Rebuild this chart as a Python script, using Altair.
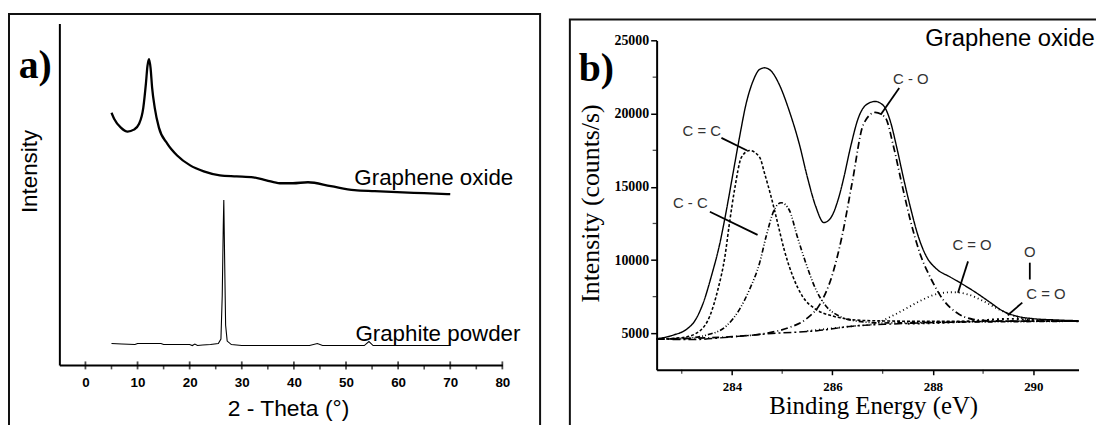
import altair as alt
import pandas as pd

# ---------------- a) XRD patterns ----------------
go_theta = [5.0, 5.5, 6.8, 8.1, 9.3, 10.3, 11.1, 11.6, 11.9, 12.2, 12.5, 12.8, 13.3, 14.1, 15.7, 17.6,
            20.1, 22.7, 25.8, 29.0, 32.2, 34.7, 37.3, 39.8, 42.7, 47.1, 51.6, 55.5, 59.8, 65.0, 70.0]
go_int = [254, 248, 239, 235, 237, 243, 259, 283, 301, 308, 299, 279, 259, 239, 223, 211,
          201, 195, 191, 190, 189, 186, 183, 183, 184, 180, 176, 175, 174, 173, 172]

gp_theta = [5.0, 7.0, 9.5, 10.0, 14.5, 15.0, 20.0, 20.5, 21.0, 21.5, 22.5, 24.0, 25.5, 26.0, 26.25,
            26.45, 26.55, 26.7, 26.9, 27.2, 28.0, 30.0, 42.0, 43.0, 44.5, 45.5, 53.5, 54.4, 55.2, 70.0]
gp_int = [21.5, 21, 20.5, 21.5, 21.5, 20.5, 20.5, 19.5, 21, 19.5, 20, 20.5, 21.5, 26, 70,
          140, 166, 110, 40, 24, 20.5, 19.5, 19.5, 19.5, 21.5, 19.5, 19.5, 23.5, 19.5, 19.5]

a_major = [0, 10, 20, 30, 40, 50, 60, 70, 80]
a_minor = [5, 15, 25, 35, 45, 55, 65, 75]

a_lab_text = ["Graphene oxide", "Graphite powder"]
a_lab_x = [51.6, 51.8]
a_lab_y = [181, 24]
a_tag_x = [-12.8]
a_tag_y = [289]

# ---------------- b) XPS C1s ----------------
env_x = [282.5, 282.83, 283.1, 283.26, 283.43, 283.59, 283.76, 283.89, 284.02, 284.15, 284.28, 284.42,
         284.55, 284.65, 284.78, 284.94, 285.14, 285.34, 285.5, 285.67, 285.83, 285.96, 286.13, 286.23,
         286.36, 286.52, 286.69, 286.85, 287.02, 287.15, 287.28, 287.41, 287.55, 287.71, 287.87, 288.07,
         288.34, 288.6, 288.86, 289.13, 289.39, 289.65, 289.98, 290.5, 290.9]
env_y = [4620, 4870, 5280, 5840, 7090, 8900, 11160, 13420, 15910, 18390, 20660, 22240,
         23030, 23140, 22920, 22010, 20200, 17940, 15680, 13640, 12560, 12850, 14320, 15680,
         17710, 19750, 20660, 20840, 20540, 19520, 17710, 15680, 13640, 11610, 10250, 9400,
         8850, 8330, 7770, 7130, 6520, 6180, 6000, 5900, 5850]

bg_x = [282.5, 283.2, 284.0, 284.8, 285.7, 286.4, 287.2, 288.1, 289.4, 290.9]
bg_y = [4600, 4560, 4750, 4980, 5170, 5480, 5630, 5730, 5810, 5820]

cc_x = [282.5, 283.03, 283.36, 283.56, 283.72, 283.86, 283.95, 284.05, 284.19, 284.35, 284.55, 284.65,
        284.78, 284.91, 285.04, 285.21, 285.4, 285.67, 286.0, 286.33, 286.8, 287.5, 288.5, 290.9]
cc_y = [4600, 4710, 5160, 6180, 7990, 10250, 12520, 14780, 17030, 17490, 17030, 15910,
        14320, 12520, 10700, 8900, 7540, 6630, 6180, 5950, 5850, 5820, 5810, 5810]

c2_x = [282.5, 283.03, 283.49, 283.89, 284.15, 284.35, 284.55, 284.68, 284.84, 284.98, 285.14, 285.3,
        285.47, 285.67, 285.87, 286.13, 286.46, 287.0, 288.0, 290.9]
c2_y = [4600, 4640, 4870, 5500, 6630, 7990, 9800, 11610, 13420, 13920, 13420, 11610,
        9800, 7990, 6860, 6180, 5840, 5700, 5740, 5820]

co_x = [282.5, 284.0, 284.68, 285.14, 285.47, 285.77, 285.99, 286.19, 286.39, 286.62, 286.85, 287.05,
        287.22, 287.38, 287.55, 287.74, 287.97, 288.2, 288.47, 288.8, 289.19, 290.0, 290.9]
co_y = [4600, 4760, 5000, 5390, 5950, 7090, 8900, 11610, 15230, 19300, 20090, 19750,
        17710, 15230, 12740, 10480, 8670, 7310, 6410, 5950, 5840, 5820, 5820]

cdo_x = [285.5, 286.4, 286.8, 287.2, 287.5, 287.8, 288.1, 288.4, 288.7, 289.0, 289.3, 289.6, 290.0, 290.5, 290.9]
cdo_y = [5150, 5480, 5620, 6200, 6750, 7300, 7700, 7800, 7650, 7200, 6650, 6200, 5900, 5830, 5820]

ocdo_x = [287.5, 288.5, 289.0, 289.3, 289.6, 289.9, 290.3, 290.9]
ocdo_y = [5650, 5760, 5880, 5960, 5980, 5920, 5840, 5820]

b_series = ["Envelope", "Background", "C=C", "C-C", "C-O", "C=O", "O-C=O"]

b_lab_text = ["C = C", "C - C", "C - O", "C = O", "O", "C = O"]
b_lab_x = [283.40, 283.17, 287.56, 288.78, 289.93, 290.25]
b_lab_y = [18840, 13890, 22340, 11040, 10520, 7650]

lead_x1 = [283.79, 283.56, 287.33, 288.70, 289.93, 289.78]
lead_y1 = [18350, 13300, 21760, 9910, 9820, 7090]
lead_x2 = [284.30, 284.51, 286.96, 288.50, 289.93, 289.49]
lead_y2 = [17490, 11720, 19930, 7770, 8670, 6230]

b_major_x = [284, 286, 288, 290]
b_minor_x = [283, 285, 287, 289]
b_major_y = [5000, 10000, 15000, 20000, 25000]
b_minor_y = [7500, 12500, 17500, 22500]

b_title_text = ["Graphene oxide"]
b_title_x = [287.85]
b_title_y = [24613]
b_tag_x = [280.95]
b_tag_y = [22240]

# ---------------- layout / styles ----------------
W, H = 1096, 417
SANS = "Liberation Sans"
SERIF = "Liberation Serif"

XA = alt.Scale(domain=[-5, 80], range=[51.75, 498], nice=False, zero=False)
YA = alt.Scale(domain=[0, 344], range=[358, 14], nice=False, zero=False)
XB = alt.Scale(domain=[282.5, 290.9], range=[653.4, 1078.4], nice=False, zero=False)
YB = alt.Scale(domain=[2500, 25000], range=[362.9, 31.3], nice=False, zero=False)

# ---------------- data frames ----------------
df_go = pd.DataFrame({"x": go_theta, "y": go_int})
df_gp = pd.DataFrame({"x": gp_theta, "y": gp_int})
df_am = pd.DataFrame({"v": a_major})
df_an = pd.DataFrame({"v": a_minor})
df_alab = pd.DataFrame({"x": a_lab_x, "y": a_lab_y, "t": a_lab_text})
df_atag = pd.DataFrame({"x": a_tag_x, "y": a_tag_y, "t": ["a)"]})

rows = []
for name, xs, ys in [("Envelope", env_x, env_y), ("Background", bg_x, bg_y), ("C=C", cc_x, cc_y),
                     ("C-C", c2_x, c2_y), ("C-O", co_x, co_y), ("C=O", cdo_x, cdo_y),
                     ("O-C=O", ocdo_x, ocdo_y)]:
    for i, (xv, yv) in enumerate(zip(xs, ys)):
        rows.append({"s": name, "x": xv, "y": yv, "o": i})
df_b = pd.DataFrame(rows)
df_blab = pd.DataFrame({"x": b_lab_x, "y": b_lab_y, "t": b_lab_text})
df_lead = pd.DataFrame({"x": lead_x1, "y": lead_y1, "x2": lead_x2, "y2": lead_y2})
df_bnx = pd.DataFrame({"v": b_minor_x})
df_bny = pd.DataFrame({"v": b_minor_y})
df_btitle = pd.DataFrame({"x": b_title_x, "y": b_title_y, "t": b_title_text})
df_btag = pd.DataFrame({"x": b_tag_x, "y": b_tag_y, "t": ["b)"]})
df_one = pd.DataFrame({"k": [0]})

# ---------------- panel a ----------------
ax_a_x = alt.Axis(orient="bottom", offset=358 - H, values=a_major, format="d", ticks=False, tickSize=0,
                  labelPadding=11, labelFont=SANS, labelFontSize=13.5, labelFontWeight="bold",
                  labelColor="black", labelFlush=False, labelOverlap=False, domainColor="black",
                  domainWidth=2, grid=False, title="2 - Theta (°)", titleFont=SANS, titleFontSize=23,
                  titleFontWeight="normal", titleColor="black", titleX=282, titleY=51,
                  titleAlign="center", titleBaseline="alphabetic")
ax_a_y = alt.Axis(orient="left", offset=-51.75, labels=False, ticks=False, domainColor="black",
                  domainWidth=2, grid=False, title="Intensity", titleFont=SANS, titleFontSize=22.5,
                  titleFontWeight="normal", titleColor="black", titleX=-22.75, titleY=162.7,
                  titleAngle=270, titleAlign="center", titleBaseline="alphabetic")

go_line = alt.Chart(df_go).mark_line(color="black", strokeWidth=2.3, interpolate="monotone").encode(
    x=alt.X("x:Q", scale=XA, axis=ax_a_x), y=alt.Y("y:Q", scale=YA, axis=ax_a_y))
gp_line = alt.Chart(df_gp).mark_line(color="black", strokeWidth=1.1).encode(
    x=alt.X("x:Q", scale=XA, axis=None), y=alt.Y("y:Q", scale=YA, axis=None))
a_ticks = alt.Chart(df_am).mark_tick(color="black", thickness=1.8, size=8).encode(
    x=alt.X("v:Q", scale=XA, axis=None), y=alt.value(358.5))
a_mticks = alt.Chart(df_an).mark_tick(color="black", thickness=1.6, size=4).encode(
    x=alt.X("v:Q", scale=XA, axis=None), y=alt.value(360.5))
a_labels = alt.Chart(df_alab).mark_text(align="left", baseline="alphabetic", font=SANS,
                                        fontSize=22.5, color="black").encode(
    x=alt.X("x:Q", scale=XA, axis=None), y=alt.Y("y:Q", scale=YA, axis=None), text="t:N")
a_tag = alt.Chart(df_atag).mark_text(align="left", baseline="alphabetic", font=SERIF, fontSize=40,
                                     fontWeight="bold", color="black").encode(
    x=alt.X("x:Q", scale=XA, axis=None), y=alt.Y("y:Q", scale=YA, axis=None), text="t:N")

# ---------------- panel b ----------------
ax_b_x = alt.Axis(orient="bottom", offset=362.9 - H, values=b_major_x, format="d", ticks=True,
                  tickSize=5, tickWidth=1.5, tickColor="black", labelPadding=6, labelFont=SERIF,
                  labelFontSize=13, labelFontWeight="bold", labelColor="black", labelFlush=False,
                  labelOverlap=False, domainColor="black", domainWidth=2, grid=False,
                  title="Binding Energy (eV)", titleFont=SERIF, titleFontSize=25,
                  titleFontWeight="normal", titleColor="black", titleX=871.5, titleY=44.1,
                  titleAlign="center", titleBaseline="alphabetic")
ax_b_y = alt.Axis(orient="left", offset=-653.4, values=b_major_y, format="d", ticks=True, tickSize=6,
                  tickWidth=1.5, tickColor="black", labelPadding=2, labelFont=SERIF, labelFontSize=14,
                  labelFontWeight="bold", labelColor="black", labelFlush=False, labelOverlap=False,
                  domainColor="black", domainWidth=2, grid=False, title="Intensity (counts/s)",
                  titleFont=SERIF, titleFontSize=26, titleFontWeight="normal", titleColor="black",
                  titleX=-58.4, titleY=195, titleAngle=270, titleAlign="center",
                  titleBaseline="alphabetic")

b_lines = alt.Chart(df_b).mark_line(color="black", interpolate="monotone").encode(
    x=alt.X("x:Q", scale=XB, axis=ax_b_x),
    y=alt.Y("y:Q", scale=YB, axis=ax_b_y),
    detail="s:N",
    order="o:Q",
    strokeDash=alt.StrokeDash("s:N", legend=None, scale=alt.Scale(
        domain=b_series,
        range=[[1, 0], [8, 3, 2, 3], [3, 2], [5, 2, 1, 2, 1, 2], [7, 3, 1, 3], [1, 3], [2, 3]])),
    strokeWidth=alt.StrokeWidth("s:N", legend=None, scale=alt.Scale(
        domain=b_series, range=[1.4, 1.9, 1.2, 1.2, 1.2, 1.3, 1.2])),
)
b_leads = alt.Chart(df_lead).mark_rule(color="black", strokeWidth=1.8).encode(
    x=alt.X("x:Q", scale=XB, axis=None), y=alt.Y("y:Q", scale=YB, axis=None),
    x2="x2:Q", y2="y2:Q")
b_labels = alt.Chart(df_blab).mark_text(align="center", baseline="middle", font=SANS, fontSize=15,
                                        color="#333333").encode(
    x=alt.X("x:Q", scale=XB, axis=None), y=alt.Y("y:Q", scale=YB, axis=None), text="t:N")
b_mtx = alt.Chart(df_bnx).mark_tick(color="black", thickness=1.3, size=4).encode(
    x=alt.X("v:Q", scale=XB, axis=None), y=alt.value(364.9))
b_mty = alt.Chart(df_bny).mark_tick(color="black", thickness=1.3, size=4).encode(
    y=alt.Y("v:Q", scale=YB, axis=None), x=alt.value(651.4))
b_title = alt.Chart(df_btitle).mark_text(align="left", baseline="alphabetic", font=SANS,
                                         fontSize=24, color="black").encode(
    x=alt.X("x:Q", scale=XB, axis=None), y=alt.Y("y:Q", scale=YB, axis=None), text="t:N")
b_tag = alt.Chart(df_btag).mark_text(align="left", baseline="alphabetic", font=SERIF, fontSize=40,
                                     fontWeight="bold", color="black").encode(
    x=alt.X("x:Q", scale=XB, axis=None), y=alt.Y("y:Q", scale=YB, axis=None), text="t:N")

# ---------------- frames ----------------
frame_a = alt.Chart(df_one).mark_rect(filled=False, stroke="#111111", strokeWidth=2).encode(
    x=alt.value(1), x2=alt.value(536), y=alt.value(4.5), y2=alt.value(H + 20))
frame_b = alt.Chart(df_one).mark_rect(filled=False, stroke="#111111", strokeWidth=2).encode(
    x=alt.value(566), x2=alt.value(W + 20), y=alt.value(10), y2=alt.value(H + 20))

chart = alt.layer(frame_a, frame_b,
                  go_line, gp_line, a_ticks, a_mticks, a_labels, a_tag,
                  b_lines, b_leads, b_labels, b_mtx, b_mty, b_title, b_tag).resolve_scale(
    x="independent", y="independent", strokeDash="independent", strokeWidth="independent"
).properties(
    width=W, height=H, autosize=alt.AutoSizeParams(type="none"), padding=0, background="white"
).configure_view(stroke=None)

chart.save("out.html", embed_options={"renderer": "svg", "actions": False})
